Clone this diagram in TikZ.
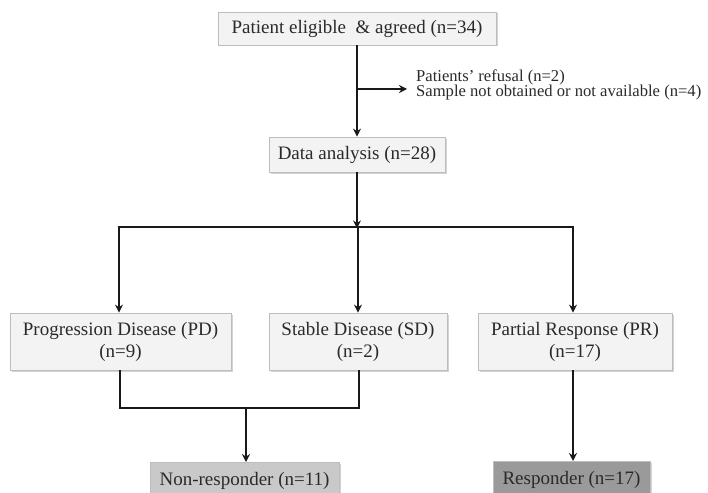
\documentclass[tikz,border=0pt]{standalone}
\usepackage{fontspec}
\setmainfont{Liberation Serif}
\usetikzlibrary{arrows.meta,shadows}
\definecolor{txt}{HTML}{2A2A2A}
\definecolor{boxfill}{HTML}{F3F3F3}
\definecolor{boxline}{HTML}{BDBDBD}
\definecolor{nrfill}{HTML}{C9C9C9}
\definecolor{rfill}{HTML}{9A9A9A}
\tikzset{
  x=1pt, y=-1pt,
  flowbox/.style={draw=boxline, line width=0.8pt, fill=boxfill, text=txt,
    inner sep=0pt, align=center, font=\fontsize{19}{22}\selectfont,
    drop shadow={shadow xshift=1.5pt, shadow yshift=-1.5pt, opacity=0.35, fill=gray}},
  conn/.style={line width=2pt, draw=black!90},
  thick conn/.style={line width=2.8pt, draw=black!90},
  arr/.style={conn, -{Stealth[length=8pt,width=8pt]}},
}
\begin{document}
\begin{tikzpicture}
\useasboundingbox (0,0) rectangle (708,492);
\clip (0,0) rectangle (708,492);
% boxes
\node[flowbox, minimum width=278pt, minimum height=33pt] (top) at (357,28.5) {Patient eligible\ \ \& agreed (n=34)};
\node[flowbox, minimum width=176pt, minimum height=35pt] (data) at (357,154.5) {Data analysis (n=28)};
\node[flowbox, minimum width=221pt, minimum height=57pt] (pd) at (120.5,341.5) {Progression Disease (PD)\\(n=9)};
\node[flowbox, minimum width=178pt, minimum height=57pt] (sd) at (358,341.5) {Stable Disease (SD)\\(n=2)};
\node[flowbox, minimum width=194pt, minimum height=57pt] (pr) at (575,341.5) {Partial Response (PR)\\(n=17)};
\node[flowbox, fill=nrfill, minimum width=189pt, minimum height=38pt, anchor=north] (nr) at (244.5,462) {Non-responder (n=11)};
\node[flowbox, fill=rfill, minimum width=157pt, minimum height=38pt, anchor=north] (r) at (571.5,461) {Responder (n=17)};
% side text
\node[anchor=west, text=txt, align=left, inner sep=0pt, font=\fontsize{16.6}{15.5}\selectfont] (excl) at (416,85) {Patients’ refusal (n=2)\\Sample not obtained or not available (n=4)};
% connectors
\coordinate (br) at (357,89);
\coordinate (brend) at (407,89);
\draw[arr] (top.south) -- (data.north);
\draw[arr] (br) -- (brend);
\coordinate (hsplit) at (357,227);
\coordinate (hl) at (119,227);
\coordinate (hr) at (573,227);
\draw[arr] (data.south) -- ([yshift=-1.4pt]hsplit);
\draw[thick conn] ([xshift=-1.4pt]hl) -- ([xshift=1.4pt]hr);
\draw[arr] (hl) -- (hl |- pd.north);
\draw[arr] (hsplit) -- (hsplit -| sd.north) -- (sd.north);
\draw[arr] (hr) -- (hr |- pr.north);
\coordinate (jl) at (120,408);
\coordinate (jr) at (359,408);
\coordinate (jm) at (246,408);
\draw[thick conn] (pd.south -| jl) -- (jl) -- (jr) -- (sd.south -| jr);
\draw[arr] (jm) -- (jm |- nr.north);
\draw[arr] (pr.south -| hr) -- (hr |- r.north);
\end{tikzpicture}
\end{document}
